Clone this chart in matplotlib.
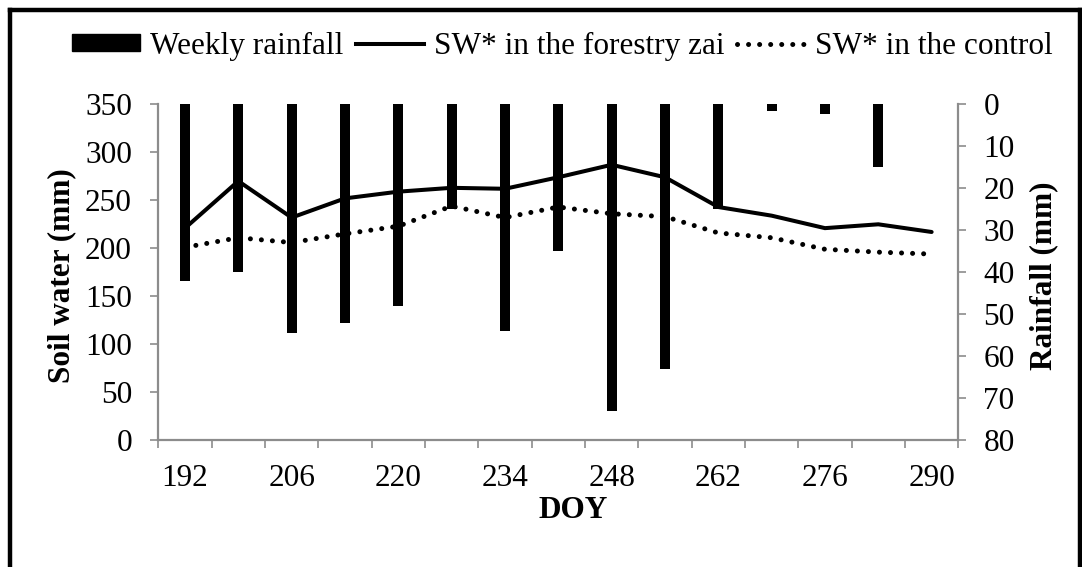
import matplotlib
matplotlib.use("Agg")
import matplotlib.pyplot as plt
from matplotlib.lines import Line2D
from matplotlib.patches import Patch
import numpy as np

plt.rcParams['font.family'] = ['Liberation Serif', 'DejaVu Serif']

# Day of year (weekly) and measured series
doy = [192, 199, 206, 213, 220, 227, 234, 241, 248, 255, 262, 269, 276, 283, 290]
rainfall = [42, 40, 54.5, 52, 48, 25, 54, 35, 73, 63, 25, 1.6, 2.4, 15, 0]
sw_zai = [221, 270, 232, 252, 259, 263, 262, 274, 287, 274, 243, 234, 221, 225, 217]
sw_control = [201, 211, 206, 215, 223, 244, 232, 243, 236, 233, 216, 211, 199, 196, 194]

sw_ticks = [0, 50, 100, 150, 200, 250, 300, 350]
rain_ticks = [0, 10, 20, 30, 40, 50, 60, 70, 80]

GRAY = '#8c8c8c'
FS = 22.5
DOTS = (0, (0.01, 2.2))

fig = plt.figure(figsize=(10.82, 5.67), dpi=100)
ax = fig.add_axes([158.3 / 1082, 1 - 440.3 / 567, 800 / 1082, 336 / 567])
ax2 = ax.twinx()

x = np.arange(len(doy))

# Rainfall bars hang from the top of the secondary (inverted) axis
ax2.bar(x, rainfall, width=0.19, color='black', zorder=2)
ax2.set_ylim(80, 0)
ax2.set_yticks(rain_ticks)

# Soil water lines drawn above the bars
ax.set_zorder(ax2.get_zorder() + 1)
ax.patch.set_visible(False)
ax.plot(x, sw_zai, color='black', lw=2.9, solid_capstyle='round', solid_joinstyle='miter')
ax.plot(x, sw_control, color='black', lw=3.6, linestyle=DOTS, dash_capstyle='round')
ax.set_ylim(0, 350)
ax.set_yticks(sw_ticks)
ax.set_xlim(-0.5, len(doy) - 0.5)

# Tick marks at category boundaries, labels on every other category
ax.set_xticks(np.arange(-0.5, len(doy), 1.0))
ax.set_xticklabels([])
ax.set_xticks(x[::2], minor=True)
ax.set_xticklabels([str(d) for d in doy[::2]], minor=True)
ax.tick_params(axis='x', which='major', direction='out', length=6, width=1.2, color=GRAY)
ax.tick_params(axis='x', which='minor', length=0, pad=17, labelsize=FS)
ax.tick_params(axis='y', direction='out', length=6, width=1.2, color=GRAY,
               labelsize=FS, pad=13)
ax2.tick_params(axis='y', direction='out', length=6, width=1.2, color=GRAY,
                labelsize=FS, pad=12)

for a in (ax, ax2):
    a.spines['top'].set_visible(False)
    for s in ('left', 'right', 'bottom'):
        a.spines[s].set_color(GRAY)
        a.spines[s].set_linewidth(1.6)
ax.spines['right'].set_visible(False)
ax2.spines['left'].set_visible(False)
ax2.spines['bottom'].set_visible(False)

ax.set_ylabel('Soil water (mm)', fontsize=FS, fontweight='bold', va='center')
ax.yaxis.set_label_coords((62 - 158.3) / 800, 0.49)
ax2.set_ylabel('Rainfall (mm)', fontsize=FS, fontweight='bold', rotation=90, va='center')
ax2.yaxis.set_label_coords((1044 - 158.3) / 800, 0.49)
ax.set_xlabel('DOY', fontsize=FS, fontweight='bold')
ax.xaxis.set_label_coords((573 - 158.3) / 800, -(511 - 440.3) / 336)
ax.xaxis.label.set_verticalalignment('center')

handles = [
    Patch(facecolor='black', edgecolor='black'),
    Line2D([], [], color='black', lw=2.9),
    Line2D([], [], color='black', lw=3.6, linestyle=DOTS, dash_capstyle='round'),
]
labels = ['Weekly rainfall', 'SW* in the forestry zai', 'SW* in the control']
fig.legend(handles, labels, loc='center', bbox_to_anchor=(562 / 1082, 1 - 46 / 567),
           ncol=3, frameon=False, fontsize=FS, handlelength=2.2, handleheight=0.5,
           handletextpad=0.3, columnspacing=0.4, borderaxespad=0)

# Outer frame
fig.add_artist(Line2D([9.5 / 1082, 9.5 / 1082], [0, 1 - 10 / 567], color='black', lw=3.2,
                      transform=fig.transFigure, solid_capstyle='projecting'))
fig.add_artist(Line2D([9.5 / 1082, 1079.5 / 1082], [1 - 10 / 567, 1 - 10 / 567], color='black',
                      lw=3.2, transform=fig.transFigure, solid_capstyle='projecting'))
fig.add_artist(Line2D([1079.5 / 1082, 1079.5 / 1082], [0, 1 - 10 / 567], color='black', lw=3.2,
                      transform=fig.transFigure, solid_capstyle='projecting'))

fig.savefig('out.png', dpi=100)
